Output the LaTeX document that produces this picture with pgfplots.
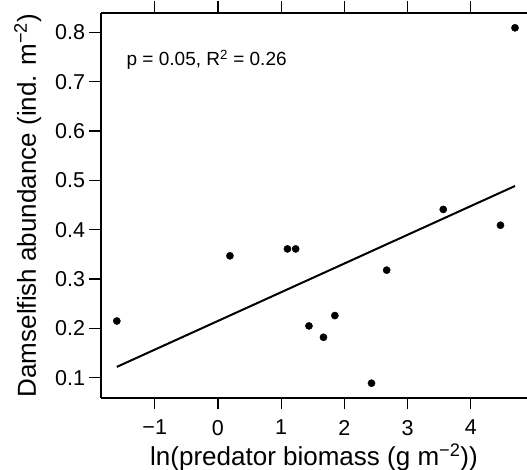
\documentclass[border=0pt]{standalone}
\usepackage{fontspec}
\setmainfont{Liberation Sans}
\usepackage{pgfplots}
\pgfplotsset{compat=1.18}

\begin{document}
\begin{tikzpicture}
\begin{axis}[
    scale only axis,
    width=426pt, height=385pt,
    xmin=-1.85, xmax=4.89,
    ymin=0.059, ymax=0.839,
    axis x line*=box, axis y line*=left,
    axis line style={line width=1.2pt},
    xtick={-1,0,1,2,3,4},
    xticklabels={−1,0,1,2,3,4},
    ytick={0.1,0.2,0.3,0.4,0.5,0.6,0.7,0.8},
    yticklabels={0.1,0.2,0.3,0.4,0.5,0.6,0.7,0.8},
    tick align=outside,
    major tick length=11.5pt,
    tick style={line width=1.2pt, black},
    tick label style={font=\fontsize{21.5}{25}\selectfont},
    xticklabel shift=7pt,
    yticklabel shift=1pt,
    xlabel={ln(predator biomass (g m\textsuperscript{−2}))},
    ylabel={Damselfish abundance (ind. m\textsuperscript{−2})},
    label style={font=\fontsize{26}{30}\selectfont},
    xlabel style={at={(axis description cs:0.5,-0.1766)}, anchor=base},
    ylabel style={at={(axis description cs:-0.1526,0.5)}, anchor=base},
    clip=false,
]
\addplot[only marks, mark=*, mark size=3.6pt, black] coordinates {
    (4.70, 0.809)
    (3.565, 0.441)
    (4.47, 0.409)
    (-1.60, 0.215)
    (0.19, 0.347)
    (1.10, 0.361)
    (1.23, 0.361)
    (2.67, 0.318)
    (1.44, 0.205)
    (1.67, 0.182)
    (1.85, 0.226)
    (2.43, 0.089)
};
\addplot[black, line width=2pt] coordinates {
    (-1.60, 0.122)
    (4.70, 0.4885)
};
\node[anchor=base west, font=\fontsize{19}{22}\selectfont] at (axis cs:-1.50,0.7326) {p = 0.05, R\textsuperscript{2} = 0.26};
\end{axis}
\pgfresetboundingbox
\path (current axis.south west) ++(-101pt,-72pt) coordinate (bbA);
\path (current axis.north east) ++(0pt,13pt) coordinate (bbB);
\path[use as bounding box] (bbA) rectangle (bbB);
\end{tikzpicture}
\end{document}
